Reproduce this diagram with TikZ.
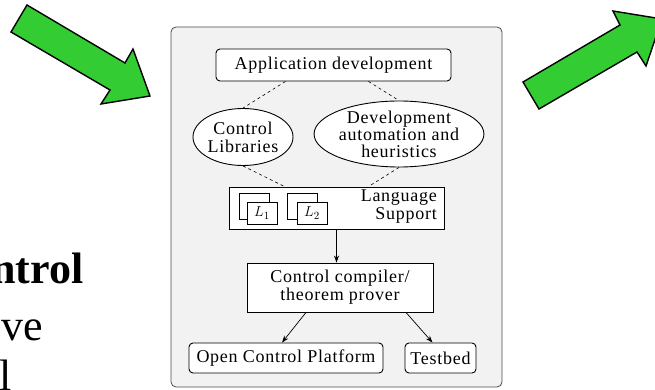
\documentclass[tikz,border=0pt]{standalone}
\usepackage{fontspec}
\setmainfont{Liberation Serif}
\usepackage{tikz}
\usetikzlibrary{positioning}
\usetikzlibrary{shapes, arrows.meta, calc}

\definecolor{arrowgreen}{RGB}{51,204,51}
\definecolor{panelgray}{RGB}{242,242,242}

\tikzset{
    box/.style={draw, fill=white, line width=0.9pt, align=center, inner sep=2pt},
    roundbox/.style={box, rounded corners=4pt},
    blob/.style={draw, ellipse, fill=white, line width=0.9pt, align=center, inner sep=0pt},
    link/.style={dashed, line width=0.6pt},
    flow/.style={-{Stealth[length=7pt,width=5pt]}, line width=0.7pt},
    bigarrow/.style={draw=black, fill=arrowgreen, line width=1.4pt, line join=miter},
    dtext/.style={font=\fontsize{18}{19}\selectfont\addfontfeatures{LetterSpace=4}},
    icon/.style={draw, fill=white, line width=0.7pt, minimum width=30pt, minimum height=22pt, inner sep=0pt, font=\fontsize{15}{16}\selectfont}
}

\begin{document}
\begin{tikzpicture}[x=1pt,y=-1pt]
    \clip (0,0) rectangle (655,390);
    \fill[white] (0,0) rectangle (655,390);

    % slide text, cut at the left border
    \node[anchor=base west, inner sep=0pt, font=\fontsize{44}{50}\selectfont\bfseries] (title) at (-9,283) {ntrol};
    \node[anchor=base west, inner sep=0pt, font=\fontsize{44}{50}\selectfont] (line2) at (1,340) {ve};
    \node[anchor=base west, inner sep=0pt, font=\fontsize{44}{50}\selectfont] (line3) at (-1,390) {l};

    % green arrows
    \path[bigarrow] (27,5) -- (125,63) -- (133,49) -- (150,96) -- (101,104) -- (110,90) -- (11,32) -- cycle;
    \path[bigarrow] (523,82) -- (620,25) -- (613,11) -- (662,19) -- (646,66) -- (637,52) -- (539,109) -- cycle;

    % panel
    \draw[fill=panelgray, draw=black!70, line width=0.8pt, rounded corners=5pt] (171,27) rectangle (502,387);

    % blocks
    \node[roundbox, dtext, minimum width=235pt, minimum height=32pt] (app) at (333.5,65) {Application development};
    \node[blob, dtext, minimum width=100pt, minimum height=57pt] (ctrl) at (243,137) {Control\\[-1pt]Libraries};
    \node[blob, dtext, minimum width=165pt, minimum height=63pt] (auto) at (399,134) {Development\\[-2pt]automation and\\[-2pt]heuristics};
    \node[box, minimum width=215pt, minimum height=42pt] (lang) at (336.5,208) {};
    \node[anchor=east, dtext, align=right, inner sep=0pt] (langtxt) at (437,207) {Language\\[-1pt]Support};

    % language icons
    \draw[line width=0.7pt] (239,193) rectangle (269,219);
    \node[icon] (lone) at (262,213) {$L_1$};
    \draw[line width=0.7pt] (287,193) rectangle (317,219);
    \node[icon] (ltwo) at (312,213) {$L_2$};

    \node[box, dtext, minimum width=186pt, minimum height=49pt] (comp) at (340,287.5) {Control compiler/\\[-1pt]theorem prover};
    \node[roundbox, dtext, minimum width=194pt, minimum height=30pt] (ocp) at (286,358) {Open Control Platform};
    \node[roundbox, dtext, minimum width=71pt, minimum height=30pt] (test) at (440.5,358) {Testbed};

    % dashed links
    \draw[link] ($(app.south)+(-48,0)$) -- (ctrl.north);
    \draw[link] ($(app.south)+(35,0)$) -- (auto.north);
    \draw[link] (ctrl.south) -- ($(lang.north)+(-52,0)$);
    \draw[link] (auto.south) -- ($(lang.north)+(32,0)$);

    % arrows
    \draw[flow] (lang.south) -- (lang.south |- comp.north);
    \draw[flow] ($(comp.south)+(-34,0)$) -- ($(ocp.north)+(-4,0)$);
    \draw[flow] ($(comp.south)+(66,0)$) -- ($(test.north)+(-8,0)$);
\end{tikzpicture}
\end{document}
